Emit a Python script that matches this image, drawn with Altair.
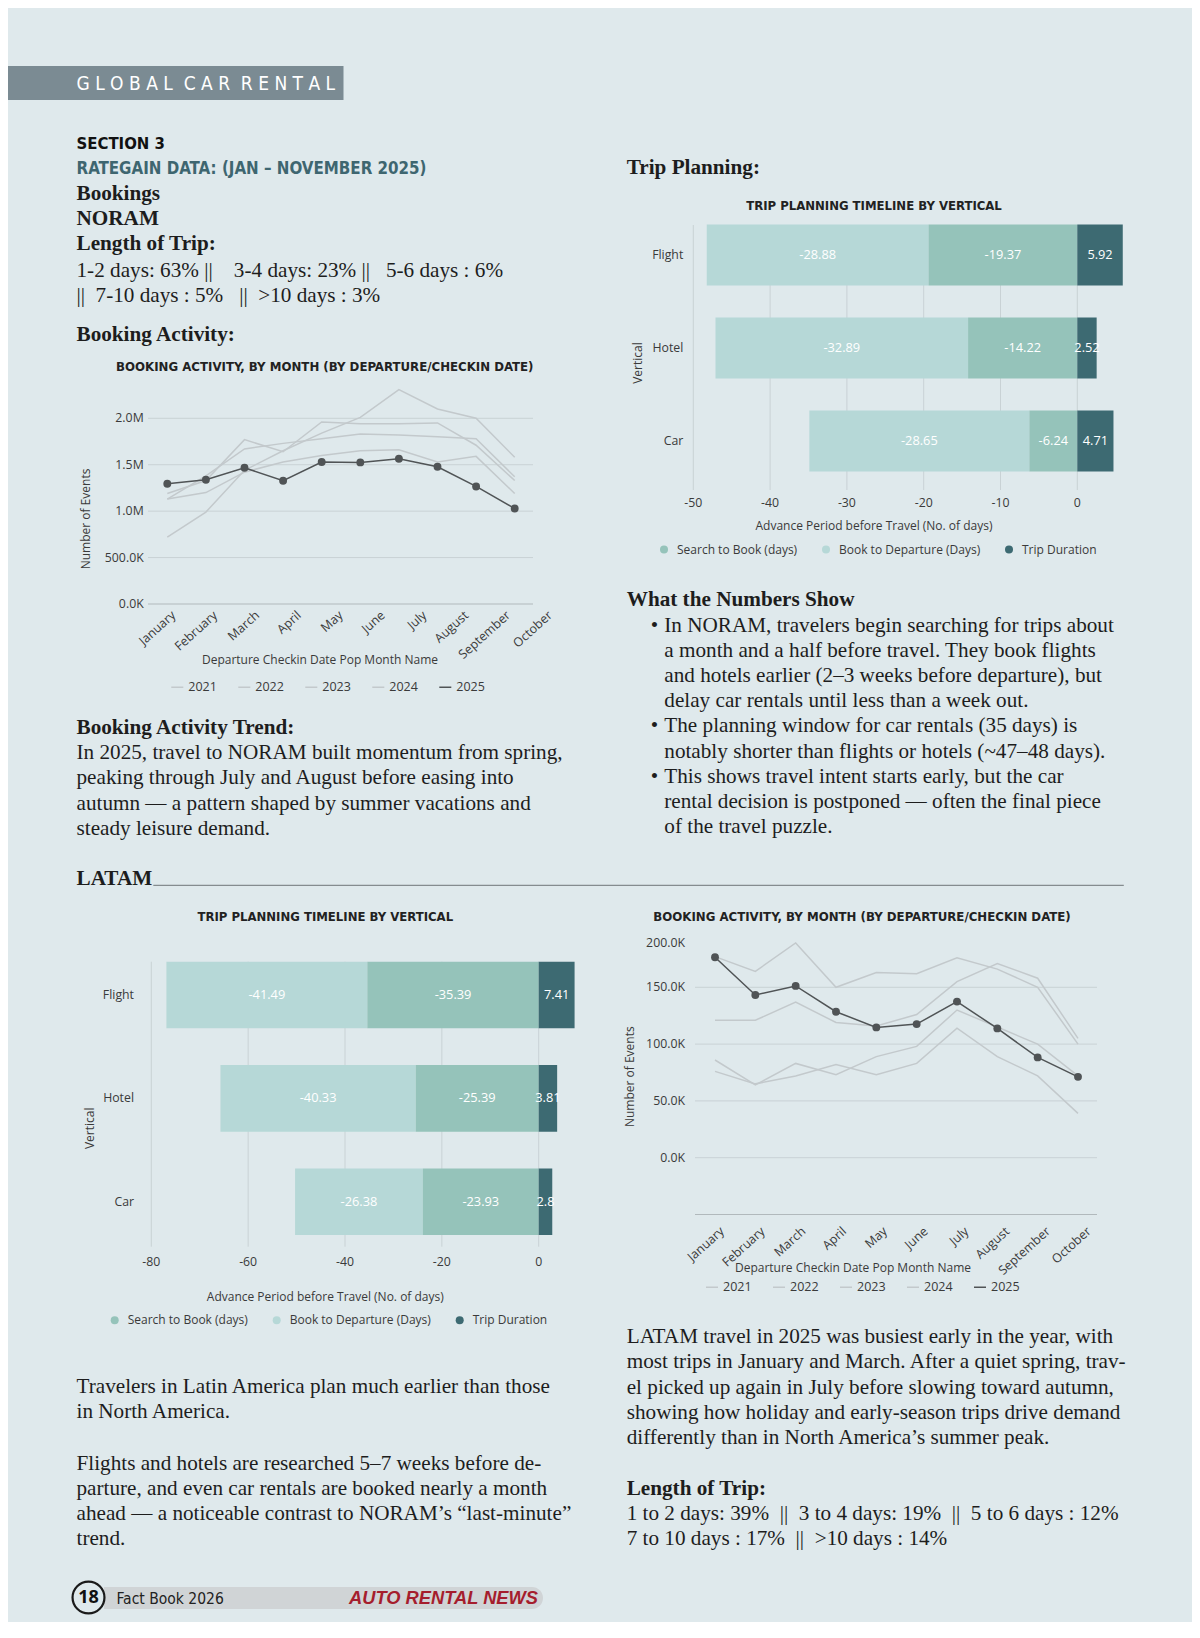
import altair as alt
import pandas as pd

OFF = 8.0


def P(v):
    return round(v - OFF, 1)


SERIF = "'Liberation Serif', 'Times New Roman', serif"
COND = "'Liberation Sans Narrow', 'DejaVu Sans Condensed', 'Roboto Condensed', sans-serif"
SANS = "'Open Sans', Roboto, sans-serif"
BG = "#dfe9ec"
INK = "#1d1d1d"
AXC = "#3a3a3a"
GRID = "#c9d2d5"
BASE = "#b1b9bc"
DARK = "#505456"
LIGHTLINE = "#c3c9cc"
FS = 21.2

# ---------------- data ----------------
months = ["January", "February", "March", "April", "May", "June",
          "July", "August", "September", "October"]
years = ["2021", "2022", "2023", "2024", "2025"]

noram_2021 = [720000, 990000, 1440000, 1650000, 1840000, 2010000, 2310000, 2100000, 2000000, 1580000]
noram_2022 = [1130000, 1200000, 1420000, 1530000, 1600000, 1650000, 1660000, 1530000, 1590000, 1190000]
noram_2023 = [1130000, 1380000, 1670000, 1730000, 1780000, 1830000, 1820000, 1800000, 1780000, 1370000]
noram_2024 = [1190000, 1330000, 1770000, 1640000, 1960000, 1940000, 1940000, 1950000, 1710000, 1330000]
noram_2025 = [1295000, 1338000, 1468000, 1327000, 1529000, 1525000, 1565000, 1478000, 1266000, 1028000]
noram_ticks = [0, 500000, 1000000, 1500000, 2000000]
noram_tick_labels = ["0.0K", "500.0K", "1.0M", "1.5M", "2.0M"]

latam_2021 = [76000, 65000, 72000, 82000, 73000, 83000, 114000, 89000, 72000, 39000]
latam_2022 = [86000, 64000, 83000, 73000, 89000, 98000, 130000, 115000, 100000, 72000]
latam_2023 = [121000, 121000, 137000, 119000, 116000, 126000, 155000, 171000, 158000, 105000]
latam_2024 = [177000, 164000, 189000, 150000, 163000, 162000, 176000, 166000, 150000, 100000]
latam_2025 = [176500, 143200, 151200, 128500, 114700, 117600, 137400, 113800, 88300, 71200]
latam_ticks = [0, 50000, 100000, 150000, 200000]
latam_tick_labels = ["0.0K", "50.0K", "100.0K", "150.0K", "200.0K"]
latam_grid = [-50000, 0, 50000, 100000, 150000]

verticals = ["Flight", "Hotel", "Car"]
segments = ["Search to Book (days)", "Book to Departure (Days)", "Trip Duration"]
segment_colors = ["#95c3ba", "#b6d8d7", "#3d6a72"]
noram_outer = [-28.88, -32.89, -28.65]
noram_inner = [-19.37, -14.22, -6.24]
noram_trip = [5.92, 2.52, 4.71]
noram_day_ticks = [-50, -40, -30, -20, -10, 0]
latam_outer = [-41.49, -40.33, -26.38]
latam_inner = [-35.39, -25.39, -23.93]
latam_trip = [7.41, 3.81, 2.8]
latam_day_ticks = [-80, -60, -40, -20, 0]

ONE = pd.DataFrame({"t": [""]})


def sp(s):
    while "  " in s:
        s = s.replace("  ", "\u00a0 ", 1)
    return s


def text(s, x, y, size=FS, font=SERIF, weight="normal", color=INK, align="left",
         baseline="alphabetic", lh=25.2, angle=None, style="normal"):
    props = dict(align=align, baseline=baseline, font=font, fontSize=size, fontWeight=weight,
                 fontStyle=style, color=color, lineBreak="\n", lineHeight=lh)
    if angle is not None:
        props["angle"] = angle
    return alt.Chart(pd.DataFrame({"t": [s]})).mark_text(**props).encode(
        x=alt.value(P(x)), y=alt.value(P(y)), text="t:N")


# ---------------- page text ----------------
page = []
page.append(alt.Chart(ONE).mark_rect(color="#7b8b93").encode(
    x=alt.value(0), x2=alt.value(P(343.5)), y=alt.value(P(66)), y2=alt.value(P(100))))
page.append(text(sp("G L O B A L  C A R  R E N T A L"), 76.5, 83.5, size=19, font=COND,
                 color="white", baseline="middle"))
page.append(text("SECTION 3", 76.5, 149.3, size=16.6, font=COND, weight="bold", color="#111111"))
page.append(text("RATEGAIN DATA: (JAN \u2013 NOVEMBER 2025)", 76.5, 174.3, size=16.8, font=COND,
                 weight="bold", color="#3e6670"))
page.append(text("Bookings\nNORAM\nLength of Trip:", 76.5, 199.5, weight="bold", lh=25.2))
page.append(text(sp("1-2 days: 63% ||    3-4 days: 23% ||   5-6 days : 6%\n||  7-10 days : 5%   ||  >10 days : 3%"),
                 76.5, 276.7, lh=25))
page.append(text("Booking Activity:", 76.5, 341, weight="bold"))
page.append(text("Trip Planning:", 626.7, 174, weight="bold"))
page.append(text("What the Numbers Show", 626.7, 605.7, weight="bold"))
for by in [631.7, 732.3, 783.3]:
    page.append(text("\u2022", 654.5, by, align="center"))
bullet_lines = [
    "In NORAM, travelers begin searching for trips about",
    "a month and a half before travel. They book flights",
    "and hotels earlier (2\u20133 weeks before departure), but",
    "delay car rentals until less than a week out.",
    "The planning window for car rentals (35 days) is",
    "notably shorter than flights or hotels (~47\u201348 days).",
    "This shows travel intent starts early, but the car",
    "rental decision is postponed \u2014 often the final piece",
    "of the travel puzzle.",
]
page.append(text("\n".join(bullet_lines), 664.3, 631.7, lh=25.2))
page.append(text("Booking Activity Trend:", 76.5, 734.3, weight="bold"))
para1 = [
    "In 2025, travel to NORAM built momentum from spring,",
    "peaking through July and August before easing into",
    "autumn \u2014 a pattern shaped by summer vacations and",
    "steady leisure demand.",
]
page.append(text("\n".join(para1), 76.5, 759.3, lh=25.2))
page.append(text("LATAM", 76.5, 885, weight="bold"))
page.append(alt.Chart(ONE).mark_rule(color="#6f7578", strokeWidth=1).encode(
    x=alt.value(P(153.3)), x2=alt.value(P(1123.8)), y=alt.value(P(885.3))))
para_bl_a = [
    "Travelers in Latin America plan much earlier than those",
    "in North America.",
]
para_bl_b = [
    "Flights and hotels are researched 5\u20137 weeks before de-",
    "parture, and even car rentals are booked nearly a month",
    "ahead \u2014 a noticeable contrast to NORAM\u2019s \u201clast-minute\u201d",
    "trend.",
]
page.append(text("\n".join(para_bl_a), 76.5, 1393.3, lh=25.0))
page.append(text("\n".join(para_bl_b), 76.5, 1470, lh=25.0))
para_br = [
    "LATAM travel in 2025 was busiest early in the year, with",
    "most trips in January and March. After a quiet spring, trav-",
    "el picked up again in July before slowing toward autumn,",
    "showing how holiday and early-season trips drive demand",
    "differently than in North America\u2019s summer peak.",
]
page.append(text("\n".join(para_br), 626.7, 1343.3, lh=25.2))
page.append(text("Length of Trip:", 626.7, 1495, weight="bold"))
page.append(text(sp("1 to 2 days: 39%  ||  3 to 4 days: 19%  ||  5 to 6 days : 12%\n7 to 10 days : 17%  ||  >10 days : 14%"),
                 626.7, 1520, lh=25))
# footer
page.append(alt.Chart(ONE).mark_rect(color="#d0d4d6", cornerRadiusTopRight=11,
                                     cornerRadiusBottomRight=11).encode(
    x=alt.value(P(104)), x2=alt.value(P(543)), y=alt.value(P(1587)), y2=alt.value(P(1609))))
page.append(alt.Chart(ONE).mark_point(shape="circle", filled=False, size=1018, strokeWidth=2.2,
                                      color="#1a1a1a", opacity=1).encode(
    x=alt.value(P(88.5)), y=alt.value(P(1597.5))))
page.append(text("18", 88.5, 1598, size=18, font=SANS, weight="bold", align="center",
                 baseline="middle", color="#111111"))
page.append(text("Fact Book 2026", 116.5, 1604, size=15.5, font=COND, color="#222222"))
page.append(text("AUTO RENTAL NEWS", 538, 1604, size=18.3, font="'Liberation Sans', Arial, sans-serif",
                 weight="bold", style="italic", align="right", color="#a51d2d"))


# ---------------- line charts ----------------
def line_chart(series, ticks, tick_labels, grid_vals, base_val, ydom, yrange, xrange_, grid_x,
               ylab_x, lab_range, lab_y, title_xy, ytitle_xy, xtitle_xy, legend_xy, top_dy=0):
    rows = []
    for yr, vals in zip(years, series):
        for m, v in zip(months, vals):
            rows.append({"month": m, "year": yr, "value": v})
    df = pd.DataFrame(rows)
    xs = alt.Scale(type="point", domain=months, range=xrange_, padding=0)
    ys = alt.Scale(domain=ydom, range=yrange, nice=False, zero=False)
    X = alt.X("month:N", scale=xs, axis=None)
    Y = alt.Y("value:Q", scale=ys, axis=None)
    gdf = pd.DataFrame({"value": grid_vals})
    grid = alt.Chart(gdf).transform_filter(f"datum.value != {base_val}").mark_rule(
        color=GRID, strokeWidth=1).encode(y=Y, x=alt.value(P(grid_x[0])), x2=alt.value(P(grid_x[1])))
    base = alt.Chart(gdf).transform_filter(f"datum.value == {base_val}").mark_rule(
        color=BASE, strokeWidth=1).encode(y=Y, x=alt.value(P(grid_x[0])), x2=alt.value(P(grid_x[1])))
    tdf = pd.DataFrame({"value": ticks, "label": tick_labels})
    top = ticks[-1]
    ylab = alt.Chart(tdf).transform_filter(f"datum.value < {top}").mark_text(
        align="right", baseline="middle", font=SANS, fontSize=12.3, color=AXC).encode(
        y=Y, x=alt.value(P(ylab_x)), text="label:N")
    ylab_top = alt.Chart(tdf).transform_filter(f"datum.value >= {top}").mark_text(
        align="right", baseline="middle", font=SANS, fontSize=12.3, color=AXC, dy=top_dy).encode(
        y=Y, x=alt.value(P(ylab_x)), text="label:N")
    lines = alt.Chart(df).mark_line().encode(
        x=X, y=Y,
        color=alt.Color("year:N", scale=alt.Scale(domain=years,
                                                  range=[LIGHTLINE, LIGHTLINE, LIGHTLINE, LIGHTLINE, DARK]),
                        legend=alt.Legend(orient="none", legendX=P(legend_xy[0]), legendY=P(legend_xy[1]),
                                          direction="horizontal", title=None, symbolType="stroke",
                                          symbolSize=144, symbolStrokeWidth=1.5,
                                          symbolStrokeColor="#a9b0b3", labelFont=SANS,
                                          labelFontSize=12.5, labelColor=AXC, columnPadding=18,
                                          labelOffset=4, padding=0)),
        strokeWidth=alt.StrokeWidth("year:N", scale=alt.Scale(domain=years, range=[1.5, 1.5, 1.5, 1.5, 2.8]),
                                    legend=None),
    )
    pts = alt.Chart(df).transform_filter("datum.year == '2025'").mark_circle(
        size=62, color=DARK, opacity=1).encode(x=X, y=Y)
    title = text("BOOKING ACTIVITY, BY MONTH (BY DEPARTURE/CHECKIN DATE)", title_xy[0], title_xy[1],
                 size=13.1, font=COND, weight="bold", align="center", baseline="middle", color="#222222")
    ytitle = text("Number of Events", ytitle_xy[0], ytitle_xy[1], size=12, font=SANS, color=AXC,
                  align="center", baseline="middle", angle=270)
    xtitle = text("Departure Checkin Date Pop Month Name", xtitle_xy[0], xtitle_xy[1], size=12,
                  font=SANS, color=AXC, align="center", baseline="middle")
    main = alt.layer(grid, base, ylab, ylab_top, lines, pts, title, ytitle, xtitle)
    labs = alt.Chart(pd.DataFrame({"month": months})).mark_text(
        align="right", baseline="top", angle=318, font=SANS, fontSize=12.5, color=AXC).encode(
        x=alt.X("month:N", scale=alt.Scale(type="point", domain=months, range=lab_range, padding=0),
                axis=None),
        y=alt.value(P(lab_y)), text="month:N")
    return main, labs


noram_line, noram_labs = line_chart(
    [noram_2021, noram_2022, noram_2023, noram_2024, noram_2025],
    noram_ticks, noram_tick_labels, noram_ticks, 0,
    [0, 2000000], [P(604), P(418.3)], [P(167.3), P(514.7)], (148, 533),
    143.7, [P(169.7), P(546.3)], 609, (324.8, 366.6), (85.7, 519), (320, 660), (170.3, 680))

latam_line, latam_labs = line_chart(
    [latam_2021, latam_2022, latam_2023, latam_2024, latam_2025],
    latam_ticks, latam_tick_labels, latam_grid, -50000,
    [0, 150000], [P(1157.7), P(987.3)], [P(715), P(1078)], (695, 1097),
    685, [P(718.3), P(1085)], 1225, (862, 917), (630, 1076.7), (853, 1268), (705, 1280), top_dy=12.8)


# ---------------- bar charts ----------------
def bar_chart(outer, inner, trip, xdom, xrange_, yrange, pad, ticks, grid_y, tick_y, ylab_x,
              title_xy, ytitle_xy, xtitle_xy, legend_xy):
    rows = []
    for v, o, i, t in zip(verticals, outer, inner, trip):
        rows.append({"vertical": v, "segment": segments[1], "x0": o + i, "x1": i, "value": o})
        rows.append({"vertical": v, "segment": segments[0], "x0": i, "x1": 0.0, "value": i})
        rows.append({"vertical": v, "segment": segments[2], "x0": 0.0, "x1": t, "value": t})
    df = pd.DataFrame(rows)
    df["mid"] = (df["x0"] + df["x1"]) / 2
    df["label"] = df["value"].map(lambda z: f"{z:g}")
    xs = alt.Scale(domain=xdom, range=xrange_, nice=False, zero=False)
    ys = alt.Scale(domain=verticals, range=yrange, paddingInner=pad, paddingOuter=pad / 2)
    Yb = alt.Y("vertical:N", scale=ys, axis=None)
    tdf = pd.DataFrame({"x0": ticks, "label": [str(t) for t in ticks]})
    grid = alt.Chart(tdf).mark_rule(color=GRID, strokeWidth=1).encode(
        x=alt.X("x0:Q", scale=xs, axis=None), y=alt.value(P(grid_y[0])), y2=alt.value(P(grid_y[1])))
    ticklab = alt.Chart(tdf).mark_text(font=SANS, fontSize=12.3, color=AXC, baseline="middle").encode(
        x=alt.X("x0:Q", scale=xs, axis=None), y=alt.value(P(tick_y)), text="label:N")
    bars = alt.Chart(df).mark_bar().encode(
        x=alt.X("x0:Q", scale=xs, axis=None), x2="x1:Q", y=Yb,
        color=alt.Color("segment:N", scale=alt.Scale(domain=segments, range=segment_colors),
                        legend=alt.Legend(orient="none", legendX=P(legend_xy[0]), legendY=P(legend_xy[1]),
                                          direction="horizontal", title=None, symbolType="circle",
                                          symbolSize=64, symbolStrokeWidth=0, symbolOpacity=1,
                                          labelFont=SANS, labelFontSize=12, labelColor=AXC,
                                          columnPadding=22, labelOffset=7, padding=0)))
    labels = alt.Chart(df).mark_text(font=SANS, fontSize=12.8, color="white", baseline="middle").encode(
        x=alt.X("mid:Q", scale=xs, axis=None), y=Yb, text="label:N")
    ylabs = alt.Chart(pd.DataFrame({"vertical": verticals})).mark_text(
        align="right", baseline="middle", font=SANS, fontSize=12.3, color=AXC).encode(
        x=alt.value(P(ylab_x)), y=Yb, text="vertical:N")
    title = text("TRIP PLANNING TIMELINE BY VERTICAL", title_xy[0], title_xy[1], size=13, font=COND,
                 weight="bold", align="center", baseline="middle", color="#222222")
    ytitle = text("Vertical", ytitle_xy[0], ytitle_xy[1], size=12, font=SANS, color=AXC,
                  align="center", baseline="middle", angle=270)
    xtitle = text("Advance Period before Travel (No. of days)", xtitle_xy[0], xtitle_xy[1], size=12,
                  font=SANS, color=AXC, align="center", baseline="middle")
    return alt.layer(grid, bars, labels, ticklab, ylabs, title, ytitle, xtitle)


noram_bar = bar_chart(noram_outer, noram_inner, noram_trip, [-50, 0], [P(693.3), P(1077.3)],
                      [P(208.5), P(487.5)], 0.344, noram_day_ticks, (225, 490), 502.7, 683.3,
                      (874, 206), (638.3, 363), (874, 526), (658, 543.5))
latam_bar = bar_chart(latam_outer, latam_inner, latam_trip, [-80, 0], [P(151.3), P(538.7)],
                      [P(943.3), P(1253.4)], 0.355, latam_day_ticks, (961.7, 1246.7), 1261.7, 134,
                      (325.3, 916.7), (89.7, 1128.3), (325.3, 1296.7), (108.7, 1314.2))

chart = alt.layer(
    *page, noram_line, noram_labs, noram_bar, latam_bar, latam_line, latam_labs
).resolve_scale(
    x="independent", y="independent", color="independent", strokeWidth="independent"
).resolve_legend(
    color="independent"
).properties(
    width=1184, height=1614, background=BG, padding=0,
    autosize=alt.AutoSizeParams(type="none")
).configure_view(stroke="transparent")

chart.save("out.html", embed_options={"renderer": "svg", "actions": False})
